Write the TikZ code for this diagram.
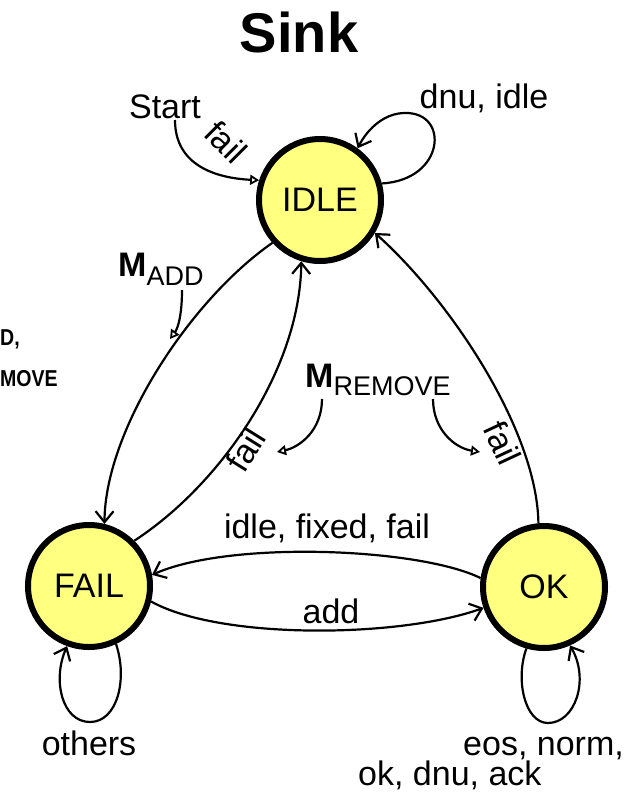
\documentclass[tikz,border=0pt]{standalone}
\usepackage{fontspec}
\setmainfont{Liberation Sans}
\usetikzlibrary{arrows.meta}
\definecolor{stfill}{RGB}{255,255,128}
\tikzset{
  state/.style={circle, draw=black, line width=6pt, fill=stfill, minimum size=122pt, inner sep=0pt, font=\fontsize{34}{34}\selectfont},
  lbl/.style={inner sep=0pt, anchor=base, font=\fontsize{34}{30}\selectfont},
  tr/.style={line width=2.2pt, -{Straight Barb[length=11pt,width=18pt,line width=2.2pt]}},
  ptr/.style={line width=2.2pt, -{Triangle[open,length=9pt,width=10pt,line width=1.8pt]}},
  bigm/.style={inner sep=0pt, anchor=base west, font=\fontsize{34}{34}\selectfont\bfseries},
  cut/.style={inner sep=0pt, anchor=base west, font=\fontsize{23}{23}\selectfont\bfseries}
}
\begin{document}
\begin{tikzpicture}[x=1pt,y=-1pt]
\useasboundingbox (0,0) rectangle (643,793);
% title
\node[inner sep=0pt, anchor=base, font=\fontsize{56}{56}\selectfont\bfseries] (title) at (299,52) {Sink};
% states
\node[state] (idle) at (320,200) {IDLE};
\node[state] (fail) at (89,586) {FAIL};
\node[state] (ok) at (544,587) {OK};
% texts
\node[lbl] (start) at (165,118) {Start};
\coordinate (s0) at (175,120);
\node[lbl, anchor=center, rotate=-45] (lfail1) at (226,142) {fail};
\node[lbl] (ldnu) at (484,108) {dnu, idle};
\node[bigm] (madd) at (118,276) {M\raisebox{-9pt}{\fontsize{27}{27}\selectfont\mdseries ADD}};
\node[bigm] (mrem) at (305,387) {M\raisebox{-8pt}{\fontsize{27}{27}\selectfont\mdseries REMOVE}};
\node[lbl, anchor=center, rotate=58] (lfail2) at (246,450) {fail};
\node[lbl, anchor=center, rotate=-65] (lfail3) at (503,443) {fail};
\node[lbl] (lidle) at (327,538) {idle, fixed, fail};
\node[lbl] (ladd) at (331,623) {add};
\node[lbl] (lothers) at (89,755) {others};
\node[inner sep=0pt, anchor=base west, align=left, font=\fontsize{34}{30}\selectfont] (leos) at (358,785) {\hspace*{105pt}eos, norm,\\ok, dnu, ack};
\node[cut] (cut1) at (0,345) {\scalebox{0.85}[1]{D,}};
\node[cut] (cut2) at (0,386) {\scalebox{0.85}[1]{MOVE}};
% pointer coordinates
\coordinate (pa0) at (182,290);
\coordinate (pa1) at (170,339);
\coordinate (pr0) at (322,399);
\coordinate (pr1) at (277,452);
\coordinate (pr2) at (433,399);
\coordinate (pr3) at (480,452);
% transitions
\draw[ptr] (s0) .. controls (175,165) and (215,178) .. (idle.162);
\draw[tr] (idle.15) .. controls (445,180) and (450,112) .. (405,113) .. controls (385,113) and (368,128) .. (idle.54);
\draw[tr] (idle.222) .. controls (190,300) and (105,430) .. (fail.76);
\draw[tr] (fail.45) .. controls (220,485) and (300,370) .. (idle.253);
\draw[tr] (ok.95) .. controls (537,430) and (450,300) .. (idle.329);
\draw[tr] (ok.172) .. controls (420,548) and (230,540) .. (fail.10);
\draw[tr] (fail.346) .. controls (220,640) and (400,638) .. (ok.199);
\draw[tr] (fail.295) .. controls (128,680) and (117,722) .. (90,722) .. controls (62,722) and (52,680) .. (fail.250);
\draw[tr] (ok.254) .. controls (515,680) and (525,723) .. (548,723) .. controls (575,723) and (590,680) .. (ok.294);
% pointers
\draw[ptr] (pa0) .. controls (182,315) and (178,328) .. (pa1);
\draw[ptr] (pr0) .. controls (322,430) and (300,447) .. (pr1);
\draw[ptr] (pr2) .. controls (433,430) and (455,448) .. (pr3);
\end{tikzpicture}
\end{document}
